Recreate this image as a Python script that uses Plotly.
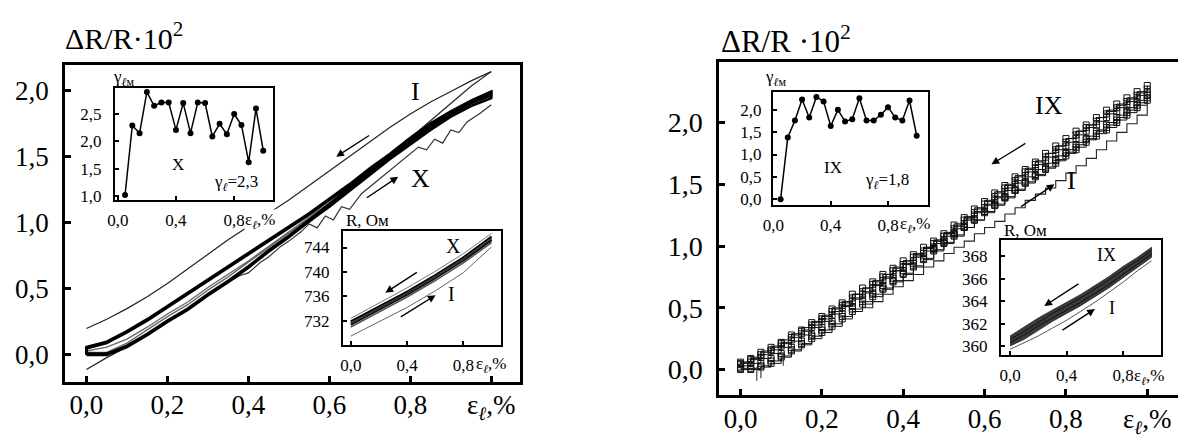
import plotly.graph_objects as go

FONT = "Liberation Serif"
W, H = 1186, 437

# ---------------- LEFT PANEL (cycles I ... X) ----------------
x_b = [0.0, 0.05, 0.1, 0.15, 0.2, 0.25, 0.3, 0.35, 0.4, 0.45, 0.5,
       0.55, 0.6, 0.65, 0.7, 0.75, 0.8, 0.85, 0.9, 0.95, 1.0]
# thick bundle, cycles II..X (loading / unloading)
loadA = [0.00, 0.00, 0.06, 0.15, 0.25, 0.34, 0.45, 0.55, 0.66, 0.78, 0.89,
         1.01, 1.12, 1.24, 1.36, 1.48, 1.59, 1.70, 1.80, 1.88, 1.94]
unloadA = [0.06, 0.10, 0.18, 0.27, 0.37, 0.47, 0.57, 0.67, 0.77, 0.87, 0.97,
           1.07, 1.18, 1.29, 1.41, 1.52, 1.64, 1.75, 1.84, 1.92, 1.99]
loadB = [0.01, 0.01, 0.07, 0.16, 0.26, 0.35, 0.46, 0.56, 0.67, 0.79, 0.90,
         1.02, 1.14, 1.26, 1.38, 1.49, 1.61, 1.72, 1.82, 1.90, 1.96]
unloadB = [0.05, 0.09, 0.17, 0.26, 0.36, 0.46, 0.56, 0.66, 0.76, 0.86, 0.96,
           1.06, 1.17, 1.28, 1.40, 1.51, 1.63, 1.74, 1.83, 1.91, 1.98]
loadC = [0.02, 0.02, 0.09, 0.19, 0.29, 0.38, 0.49, 0.59, 0.70, 0.81, 0.92,
         1.03, 1.15, 1.27, 1.39, 1.50, 1.62, 1.73, 1.83, 1.91, 1.97]
unloadC = [0.03, 0.06, 0.12, 0.21, 0.31, 0.40, 0.51, 0.61, 0.71, 0.82, 0.93,
           1.04, 1.15, 1.27, 1.39, 1.50, 1.62, 1.72, 1.82, 1.90, 1.96]
# cycle I
loadI = [-0.11, -0.02, 0.06, 0.15, 0.25, 0.34, 0.45, 0.55, 0.66, 0.78, 0.89,
         1.00, 1.12, 1.25, 1.38, 1.51, 1.64, 1.77, 1.90, 2.03, 2.14]
unloadI = [0.20, 0.27, 0.35, 0.44, 0.54, 0.65, 0.76, 0.87, 0.97, 1.07, 1.17,
           1.28, 1.39, 1.50, 1.61, 1.72, 1.82, 1.91, 1.99, 2.07, 2.14]
# wavy outlying cycle
x_w = [0.30, 0.35, 0.38, 0.40, 0.43, 0.45, 0.48, 0.50, 0.53, 0.55, 0.57, 0.59,
       0.61, 0.63, 0.65, 0.68, 0.72, 0.76, 0.80, 0.82, 0.84, 0.86, 0.88, 0.90,
       0.92, 0.94, 0.97, 1.00]
y_w = [0.45, 0.55, 0.60, 0.62, 0.70, 0.74, 0.82, 0.86, 0.93, 0.99, 0.96, 1.05,
       1.02, 1.12, 1.10, 1.22, 1.32, 1.42, 1.52, 1.57, 1.55, 1.63, 1.60, 1.70,
       1.68, 1.76, 1.82, 1.89]

# inset: gamma vs strain, cycle X
x_g = [0.05, 0.1, 0.15, 0.2, 0.25, 0.3, 0.35, 0.4, 0.45, 0.5,
       0.55, 0.6, 0.65, 0.7, 0.75, 0.8, 0.85, 0.9, 0.95, 1.0]
g_X = [1.02, 2.29, 2.15, 2.90, 2.65, 2.71, 2.71, 2.21, 2.70, 2.15,
       2.71, 2.70, 2.09, 2.32, 2.13, 2.50, 2.30, 1.62, 2.60, 1.83]

# inset: R vs strain (Ohm)
x_r = [0.0, 0.2, 0.4, 0.6, 0.8, 1.0]
R_a = [731.9, 734.3, 736.8, 739.5, 742.4, 745.8]
R_b = [731.4, 733.8, 736.3, 739.0, 741.9, 745.2]
R_c = [731.0, 733.4, 735.9, 738.6, 741.5, 744.8]
R_d = [731.6, 734.0, 736.5, 739.2, 742.1, 745.5]
R_up = [732.4, 734.9, 737.4, 740.1, 743.0, 746.3]
R_I = [729.5, 731.8, 734.2, 736.9, 739.9, 744.1]

# ---------------- RIGHT PANEL (cycles I ... IX) ----------------
x_s = [0.0, 0.025, 0.05, 0.075, 0.1, 0.125, 0.15, 0.175, 0.2, 0.225, 0.25,
       0.275, 0.3, 0.325, 0.35, 0.375, 0.4, 0.425, 0.45, 0.475, 0.5,
       0.525, 0.55, 0.575, 0.6, 0.625, 0.65, 0.675, 0.7, 0.725, 0.75,
       0.775, 0.8, 0.825, 0.85, 0.875, 0.9, 0.925, 0.95, 0.975, 1.0]
U1 = [0.06, 0.09, 0.14, 0.18, 0.22, 0.28, 0.32, 0.38, 0.43, 0.49, 0.54,
      0.61, 0.66, 0.71, 0.77, 0.82, 0.88, 0.93, 0.99, 1.04, 1.10,
      1.17, 1.23, 1.30, 1.36, 1.43, 1.49, 1.56, 1.62, 1.68, 1.75,
      1.81, 1.87, 1.93, 1.98, 2.04, 2.10, 2.15, 2.20, 2.25, 2.30]
U2 = [0.04, 0.06, 0.10, 0.15, 0.19, 0.24, 0.29, 0.34, 0.39, 0.44, 0.50,
      0.55, 0.61, 0.66, 0.72, 0.77, 0.83, 0.88, 0.94, 0.99, 1.05,
      1.11, 1.18, 1.24, 1.31, 1.37, 1.44, 1.50, 1.57, 1.63, 1.69,
      1.75, 1.81, 1.87, 1.93, 1.98, 2.04, 2.09, 2.14, 2.19, 2.24]
U3 = [0.05, 0.08, 0.12, 0.16, 0.21, 0.26, 0.31, 0.36, 0.41, 0.47, 0.52,
      0.58, 0.63, 0.69, 0.75, 0.80, 0.85, 0.91, 0.96, 1.02, 1.08,
      1.14, 1.21, 1.27, 1.34, 1.40, 1.47, 1.53, 1.60, 1.66, 1.72,
      1.78, 1.84, 1.90, 1.96, 2.01, 2.07, 2.12, 2.17, 2.22, 2.27]
L1 = [0.00, 0.00, 0.02, 0.05, 0.10, 0.15, 0.20, 0.25, 0.30, 0.35, 0.41,
      0.47, 0.53, 0.59, 0.65, 0.71, 0.77, 0.83, 0.89, 0.96, 1.02,
      1.08, 1.15, 1.21, 1.28, 1.34, 1.40, 1.46, 1.52, 1.58, 1.64,
      1.70, 1.76, 1.82, 1.87, 1.93, 1.98, 2.04, 2.10, 2.16, 2.22]
L2 = [0.02, 0.03, 0.05, 0.09, 0.13, 0.18, 0.23, 0.28, 0.34, 0.39, 0.45,
      0.51, 0.57, 0.62, 0.68, 0.74, 0.80, 0.86, 0.92, 0.98, 1.04,
      1.10, 1.16, 1.22, 1.28, 1.33, 1.39, 1.45, 1.51, 1.56, 1.62,
      1.67, 1.73, 1.78, 1.84, 1.89, 1.94, 2.00, 2.06, 2.12, 2.18]
L3 = [0.01, 0.01, 0.03, 0.07, 0.11, 0.16, 0.21, 0.27, 0.32, 0.37, 0.43,
      0.49, 0.55, 0.61, 0.66, 0.72, 0.78, 0.84, 0.90, 0.97, 1.03,
      1.09, 1.15, 1.21, 1.27, 1.33, 1.39, 1.45, 1.51, 1.57, 1.63,
      1.69, 1.75, 1.80, 1.86, 1.91, 1.96, 2.02, 2.08, 2.14, 2.20]
x_sI = [0.3, 0.325, 0.35, 0.375, 0.4, 0.425, 0.45, 0.475, 0.5, 0.525, 0.55,
        0.575, 0.6, 0.625, 0.65, 0.675, 0.7, 0.725, 0.75, 0.775, 0.8,
        0.825, 0.85, 0.875, 0.9, 0.925, 0.95, 0.975, 1.0]
sI = [0.50, 0.55, 0.61, 0.67, 0.72, 0.77, 0.83, 0.88, 0.94, 0.99, 1.04,
      1.10, 1.15, 1.20, 1.26, 1.31, 1.37, 1.42, 1.47, 1.53, 1.59,
      1.65, 1.71, 1.78, 1.85, 1.92, 1.99, 2.06, 2.14]
x_spk = [0.04, 0.04, None, 0.05, 0.05, None, 0.105, 0.105]
y_spk = [0.02, -0.09, None, 0.03, -0.07, None, 0.13, 0.03]

g_IX = [0.00, 1.38, 1.76, 2.23, 1.83, 2.29, 2.19, 1.64, 2.00, 1.74,
        1.79, 2.26, 1.76, 1.76, 1.89, 2.06, 1.83, 1.76, 2.21, 1.42]

x_r2 = [0.0, 0.1, 0.2, 0.3, 0.4, 0.5, 0.6, 0.7, 0.8, 0.9, 1.0]
R2_top = [360.9, 361.7, 362.5, 363.2, 363.9, 364.6, 365.4, 366.2, 367.1, 367.9, 368.8]
R2_bot = [360.0, 360.6, 361.4, 362.2, 362.9, 363.6, 364.4, 365.2, 366.1, 367.0, 367.9]
R2_m1 = [360.6, 361.3, 362.1, 362.9, 363.6, 364.3, 365.1, 365.9, 366.8, 367.6, 368.5]
R2_m2 = [360.3, 361.0, 361.8, 362.5, 363.2, 363.9, 364.7, 365.5, 366.4, 367.3, 368.2]
R2_I = [359.7, 360.3, 360.9, 361.6, 362.3, 363.1, 363.9, 364.8, 365.7, 366.7, 367.6]

main_ticks = [0.0, 0.2, 0.4, 0.6, 0.8, 1.0]
main_ticktext = ["0,0", "0,2", "0,4", "0,6", "0,8", "ε<sub><i>ℓ</i></sub>,%"]
main_yticks = [0.0, 0.5, 1.0, 1.5, 2.0]
main_yticktext = ["0,0", "0,5", "1,0", "1,5", "2,0"]
ins_xticks = [0.0, 0.4, 0.8]
ins_xticktext = ["0,0", "0,4", "0,8"]

# ---------------- figure ----------------
fig = go.Figure()


def px_x(v):
    return v / W


def px_y(v):
    return 1 - v / H


def add_loop(xv, lo, up, xa, ya, color, width):
    fig.add_trace(go.Scatter(x=xv + xv[::-1] + [xv[0]], y=lo + up[::-1] + [lo[0]],
                             mode="lines", line=dict(color=color, width=width),
                             xaxis=xa, yaxis=ya, hoverinfo="skip", showlegend=False))


def add_line(xv, yv, xa, ya, color, width, shape="linear", **kw):
    fig.add_trace(go.Scatter(x=xv, y=yv, mode="lines",
                             line=dict(color=color, width=width, shape=shape),
                             xaxis=xa, yaxis=ya, hoverinfo="skip", showlegend=False, **kw))


# left main
add_line(x_b, loadI, "x", "y", "#222", 1.2)
add_line(x_b, unloadI, "x", "y", "#222", 1.2)
add_line(x_w, y_w, "x", "y", "#333", 1.2)
add_loop(x_b, loadC, unloadC, "x", "y", "#666", 1.3)
add_loop(x_b, loadA, unloadA, "x", "y", "black", 2.6)
add_loop(x_b, loadB, unloadB, "x", "y", "black", 2.6)

# left inset 1
fig.add_trace(go.Scatter(x=x_g, y=g_X, mode="lines+markers",
                         line=dict(color="black", width=1.5),
                         marker=dict(color="black", size=6),
                         xaxis="x2", yaxis="y2", hoverinfo="skip", showlegend=False))

# left inset 2
add_line(x_r, R_I, "x3", "y3", "#666", 1.0)
add_line(x_r, R_up, "x3", "y3", "#777", 1.0)
add_line(x_r, R_c, "x3", "y3", "#555", 1.5)
add_line(x_r, R_a, "x3", "y3", "black", 2.0)
add_line(x_r, R_b, "x3", "y3", "black", 2.2)
add_line(x_r, R_d, "x3", "y3", "#333", 2.0)

# right main: stepped (zig-zag) branches
add_line(x_sI, sI, "x4", "y4", "#222", 1.1, "hv")
for yy, sh in [(L1, "hv"), (L2, "vh"), (L3, "hv"), (U1, "hv"), (U2, "vh"), (U3, "hv")]:
    fig.add_trace(go.Scatter(x=x_s, y=yy, mode="lines+markers",
                             line=dict(color="#111", width=1.0, shape=sh),
                             marker=dict(symbol="square-open", size=6, color="#111",
                                         line=dict(width=1)),
                             xaxis="x4", yaxis="y4", hoverinfo="skip", showlegend=False))
add_line(x_spk, y_spk, "x4", "y4", "#333", 1.1, connectgaps=False)

# right inset 1
fig.add_trace(go.Scatter(x=x_g, y=g_IX, mode="lines+markers",
                         line=dict(color="black", width=1.5),
                         marker=dict(color="black", size=6),
                         xaxis="x5", yaxis="y5", hoverinfo="skip", showlegend=False))

# right inset 2
fig.add_trace(go.Scatter(x=x_r2 + x_r2[::-1], y=R2_top + R2_bot[::-1], mode="lines",
                         fill="toself", fillcolor="#3a3a3a", line=dict(color="#222", width=0.8),
                         xaxis="x6", yaxis="y6", hoverinfo="skip", showlegend=False))
add_line(x_r2, R2_m1, "x6", "y6", "#111", 1.0)
add_line(x_r2, R2_m2, "x6", "y6", "#111", 1.0)
add_line(x_r2, R2_I, "x6", "y6", "#555", 1.0)


def axis(domain, rng, anchor, tickvals, ticktext, size, ticklen, lw, standoff):
    return dict(domain=domain, range=rng, anchor=anchor, tickmode="array",
                tickvals=tickvals, ticktext=ticktext, ticks="inside", ticklen=ticklen,
                tickwidth=lw, tickcolor="black", showline=True, mirror=True,
                linecolor="black", linewidth=lw, showgrid=False, zeroline=False,
                automargin=False,
                tickfont=dict(family=FONT, size=size, color="black"),
                ticklabelstandoff=standoff, fixedrange=True)


def dom_x(a, b):
    return [px_x(a), px_x(b)]


def dom_y(top, bot):
    return [px_y(bot), px_y(top)]


fig.update_layout(
    width=W, height=H, autosize=False,
    margin=dict(l=0, r=0, t=0, b=0, pad=0, autoexpand=False),
    paper_bgcolor="white", plot_bgcolor="rgba(0,0,0,0)",
    showlegend=False,
    font=dict(family=FONT, color="black"),
    xaxis=axis(dom_x(57, 512), [-0.053, 1.071], "y", main_ticks, main_ticktext, 27, 6, 2.5, -3),
    yaxis=axis(dom_y(57, 374), [-0.204, 2.19], "x", main_yticks, main_yticktext, 27, 6, 2.5, 8),
    xaxis2=axis(dom_x(107, 265), [-0.019, 1.067], "y2", ins_xticks, ins_xticktext, 17, 4, 2, 4),
    yaxis2=axis(dom_y(80, 192), [0.93, 2.975], "x2", [1.0, 1.5, 2.0, 2.5],
                ["1,0", "1,5", "2,0", "2,5"], 17, 4, 2, 8),
    xaxis3=axis(dom_x(335, 493), [-0.055, 1.067], "y3", ins_xticks, ins_xticktext, 17, 4, 2, 4),
    yaxis3=axis(dom_y(223, 337), [728.05, 746.7], "x3", [732, 736, 740, 744],
                ["732", "736", "740", "744"], 17, 4, 2, 8),
    xaxis4=axis(dom_x(711, 1173), [-0.053, 1.083], "y4", main_ticks, main_ticktext, 27, 6, 2.5, -2),
    yaxis4=axis(dom_y(54, 387), [-0.206, 2.49], "x4", main_yticks, main_yticktext, 28, 6, 2.5, 8),
    xaxis5=axis(dom_x(765, 920), [-0.003, 1.079], "y5", ins_xticks, ins_xticktext, 17, 4, 2, 4),
    yaxis5=axis(dom_y(84, 197), [-0.13, 2.40], "x5", [0.0, 0.5, 1.0, 1.5, 2.0],
                ["0,0", "0,5", "1,0", "1,5", "2,0"], 17, 4, 2, 6),
    xaxis6=axis(dom_x(993, 1153), [-0.064, 1.067], "y6", ins_xticks, ins_xticktext, 17, 4, 2, 4),
    yaxis6=axis(dom_y(232, 347), [359.2, 369.45], "x6", [360, 362, 364, 366, 368],
                ["360", "362", "364", "366", "368"], 17, 4, 2, 8),
)

anns = []


def label(text, x, y, xref, yref, size, xanchor="center", yanchor="middle", bg=None):
    d = dict(text=text, x=x, y=y, xref=xref, yref=yref, showarrow=False,
             font=dict(family=FONT, size=size, color="black"),
             xanchor=xanchor, yanchor=yanchor)
    if bg:
        d["bgcolor"] = bg
        d["borderpad"] = 0
    anns.append(d)


def arrow(x0, y0, x1, y1, xref, yref):
    anns.append(dict(text="", x=x1, y=y1, ax=x0, ay=y0, xref=xref, yref=yref,
                     axref=xref, ayref=yref, showarrow=True, arrowhead=2,
                     arrowsize=1.1, arrowwidth=1.4, arrowcolor="black",
                     font=dict(family=FONT, size=12)))


# titles
label("ΔR/R·10<sup>2</sup>", px_x(55), px_y(28), "paper", "paper", 30, "left")
label("ΔR/R ·10<sup>2</sup>", px_x(711), px_y(32), "paper", "paper", 31, "left")

# left main labels and arrows
label("I", 0.813, 1.99, "x", "y", 26)
label("X", 0.825, 1.33, "x", "y", 26)
arrow(0.702, 1.665, 0.617, 1.497, "x", "y")
arrow(0.689, 1.18, 0.77, 1.346, "x", "y")

# left inset 1
label("γ<sub><i>ℓ</i>м</sub>", px_x(103), px_y(70), "paper", "paper", 17, "left")
label("X", 0.416, 1.57, "x2", "y2", 17)
label("γ<sub><i>ℓ</i></sub>=2,3", 0.815, 1.24, "x2", "y2", 17)
label("ε<sub><i>ℓ</i></sub>,%", px_x(236), px_y(213), "paper", "paper", 17, "left", bg="white")

# left inset 2
label("R, Ом", px_x(336), px_y(212), "paper", "paper", 17, "left")
label("X", 0.727, 744.2, "x3", "y3", 20)
label("I", 0.714, 736.4, "x3", "y3", 20)
arrow(0.48, 740.1, 0.246, 736.6, "x3", "y3")
arrow(0.345, 732.5, 0.603, 736.2, "x3", "y3")
label("ε<sub><i>ℓ</i></sub>,%", px_x(466), px_y(357), "paper", "paper", 17, "left")

# right main labels and arrows
label("IX", 0.758, 2.135, "x4", "y4", 26)
label("I", 0.813, 1.527, "x4", "y4", 26)
arrow(0.704, 1.838, 0.617, 1.662, "x4", "y4")
arrow(0.686, 1.311, 0.772, 1.50, "x4", "y4")

# right inset 1
label("γ<sub><i>ℓ</i>м</sub>", px_x(755), px_y(70), "paper", "paper", 17, "left")
label("IX", 0.416, 0.70, "x5", "y5", 17)
label("γ<sub><i>ℓ</i></sub>=1,8", 0.79, 0.40, "x5", "y5", 17)
label("ε<sub><i>ℓ</i></sub>,%", px_x(891), px_y(217), "paper", "paper", 17, "left", bg="white")

# right inset 2
label("R, Ом", px_x(994), px_y(222), "paper", "paper", 17, "left")
label("IX", 0.68, 368.1, "x6", "y6", 18)
label("I", 0.72, 363.4, "x6", "y6", 18)
arrow(0.494, 365.63, 0.242, 363.56, "x6", "y6")
arrow(0.36, 361.33, 0.60, 363.3, "x6", "y6")
label("ε<sub><i>ℓ</i></sub>,%", px_x(1124), px_y(369), "paper", "paper", 17, "left")

fig.update_layout(annotations=anns)
fig.write_html("out.html")
